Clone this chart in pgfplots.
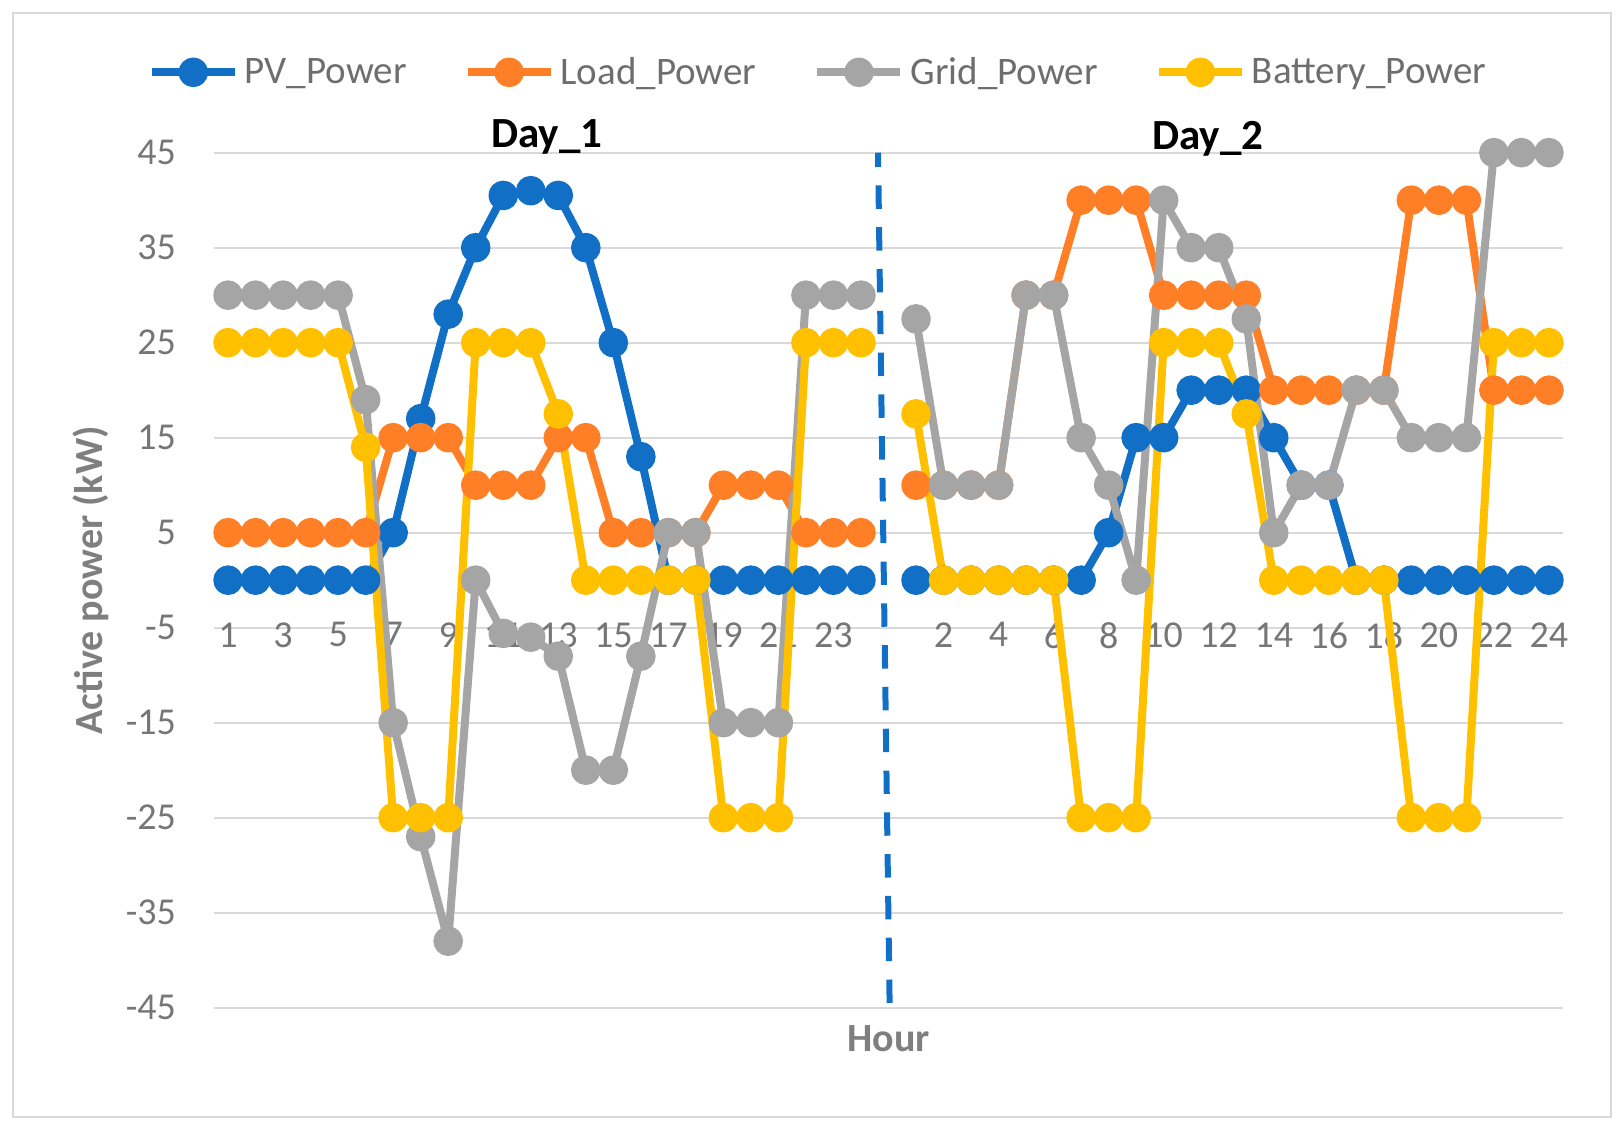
\documentclass[border=0pt]{standalone}
\usepackage{pgfplots}
\pgfplotsset{compat=1.18}
\usepackage{pgfplotstable}
\usepackage{fontspec}
\setmainfont{Carlito}
\definecolor{cPV}{HTML}{1170C6}
\definecolor{cLoad}{HTML}{FF7F27}
\definecolor{cGrid}{HTML}{A5A5A5}
\definecolor{cBat}{HTML}{FFC000}
\definecolor{gridc}{HTML}{D9D9D9}
\definecolor{tickc}{HTML}{767676}
\definecolor{legc}{HTML}{6E6E6E}
\definecolor{titc}{HTML}{7F7F7F}
\pgfplotstableread{
x pv load grid bat
0 0 5 30 25
1 0 5 30 25
2 0 5 30 25
3 0 5 30 25
4 0 5 30 25
5 0 5 19 14
6 5 15 -15 -25
7 17 15 -27 -25
8 28 15 -38 -25
9 35 10 0 25
10 40.5 10 -5.6 25
11 41 10 -6 25
12 40.5 15 -8 17.5
13 35 15 -20 0
14 25 5 -20 0
15 13 5 -8 0
16 0 5 5 0
17 0 5 5 0
18 0 10 -15 -25
19 0 10 -15 -25
20 0 10 -15 -25
21 0 5 30 25
22 0 5 30 25
23 0 5 30 25
24 nan nan nan nan
25 0 10 27.5 17.5
26 0 10 10 0
27 0 10 10 0
28 0 10 10 0
29 0 30 30 0
30 0 30 30 0
31 0 40 15 -25
32 5 40 10 -25
33 15 40 0 -25
34 15 30 40 25
35 20 30 35 25
36 20 30 35 25
37 20 30 27.5 17.5
38 15 20 5 0
39 10 20 10 0
40 10 20 10 0
41 0 20 20 0
42 0 20 20 0
43 0 40 15 -25
44 0 40 15 -25
45 0 40 15 -25
46 0 20 45 25
47 0 20 45 25
48 0 20 45 25
}\data
\pgfplotsset{ser/.style={color=#1, line width=4pt, line join=round, mark=*, mark size=5.4pt, mark options={draw=none, fill=#1}}}
\begin{document}
\begin{tikzpicture}
\begin{axis}[
  width=674.2pt, height=427.5pt, scale only axis,
  xmin=-0.5, xmax=48.5, ymin=-45, ymax=45,
  axis x line*=middle, axis y line*=left,
  axis line style={draw=none},
  major tick length=0pt,
  hide obscured x ticks=false, hide obscured y ticks=false,
  ytick={-45,-35,-25,-15,-5,5,15,25,35,45},
  ymajorgrids, major grid style={draw=gridc, line width=1pt},
  xtick={0,2,4,6,8,10,12,14,16,18,20,22,26,28,30,32,34,36,38,40,42,44,46,48},
  xticklabels={1,3,5,7,9,11,13,15,17,19,21,23,2,4,6,8,10,12,14,16,18,20,22,24},
  /pgf/number format/assume math mode=true,
  yticklabel style={font=\fontsize{19}{22}\selectfont, text=tickc, anchor=east, inner sep=0pt, xshift=-19pt},
  xticklabel style={font=\fontsize{19}{22}\selectfont, text=tickc, anchor=north, inner sep=0pt, yshift=-21pt},
  unbounded coords=jump,
  clip=false,
  legend columns=4,
  legend style={at={(0.447,1.094)}, anchor=center, draw=none, fill=none,
    font=\fontsize{19.5}{22}\selectfont, text=legc,
    nodes={inner sep=0pt},
    /tikz/every odd column/.append style={column sep=3pt},
    /tikz/every even column/.append style={column sep=28.5pt}},
  legend image code/.code={\draw[mark repeat=2,mark phase=2] plot coordinates {(0pt,0pt) (20.75pt,0pt) (41.5pt,0pt)};},
]
\path (rel axis cs:-0.15893,-0.13953) rectangle (rel axis cs:1.04546,1.17860);
\draw[gridc, line width=1pt] (rel axis cs:-0.1493,-0.1278) rectangle (rel axis cs:1.0358,1.1634);
\addplot[ser=cPV] table[x=x, y=pv] {\data};
\addlegendentry{PV\_Power}
\addplot[ser=cLoad] table[x=x, y=load] {\data};
\addlegendentry{Load\_Power}
\addplot[ser=cGrid] table[x=x, y=grid] {\data};
\addlegendentry{Grid\_Power}
\addplot[ser=cBat] table[x=x, y=bat] {\data};
\addlegendentry{Battery\_Power}
\draw[cPV, line width=3pt, dash pattern=on 11.7pt off 9.2pt] (axis cs:24.04,-44.5) -- (axis cs:23.62,45);
\node[font=\bfseries\fontsize{21.5}{24}\selectfont] at (axis cs:11.59,46.7) {Day\_1};
\node[font=\bfseries\fontsize{21.5}{24}\selectfont] at (axis cs:35.6,46.5) {Day\_2};
\node[font=\bfseries\fontsize{20}{24}\selectfont, text=titc] at (rel axis cs:0.5,-0.0366) {Hour};
\node[font=\bfseries\fontsize{20}{24}\selectfont, text=titc, rotate=90] at (rel axis cs:-0.0914,0.5) {Active power (kW)};
\end{axis}
\end{tikzpicture}
\end{document}
